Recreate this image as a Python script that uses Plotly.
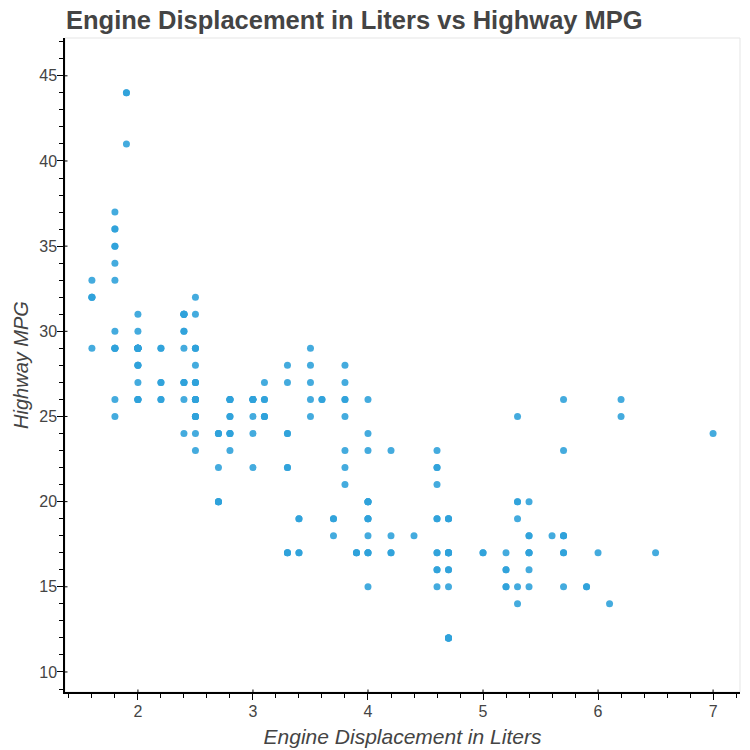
import plotly.graph_objects as go

# mpg dataset: engine displacement (litres) and highway mpg
displ = [
    1.8, 1.8, 2.0, 2.0, 2.8, 2.8, 3.1, 1.8, 1.8, 2.0, 2.0, 2.8, 2.8, 3.1, 3.1, 2.8, 3.1, 4.2,
    5.3, 5.3, 5.3, 5.7, 6.0, 5.7, 5.7, 6.2, 6.2, 7.0, 5.3, 5.3, 5.7, 6.5, 2.4, 2.4, 3.1, 3.5, 3.6,
    2.4, 3.0, 3.3, 3.3, 3.3, 3.3, 3.3, 3.8, 3.8, 3.8, 4.0,
    3.7, 3.7, 3.9, 3.9, 4.7, 4.7, 4.7, 5.2, 5.2,
    3.9, 4.7, 4.7, 4.7, 5.2, 5.7, 5.9,
    4.7, 4.7, 4.7, 4.7, 4.7, 4.7, 5.2, 5.2, 5.7, 5.9,
    4.6, 5.4, 5.4,
    4.0, 4.0, 4.0, 4.0, 4.6, 5.0,
    4.2, 4.2, 4.6, 4.6, 4.6, 5.4, 5.4,
    3.8, 3.8, 4.0, 4.0, 4.6, 4.6, 4.6, 4.6, 5.4,
    1.6, 1.6, 1.6, 1.6, 1.6, 1.8, 1.8, 1.8, 2.0,
    2.4, 2.4, 2.4, 2.4, 2.5, 2.5, 3.3,
    2.0, 2.0, 2.0, 2.0, 2.7, 2.7, 2.7,
    3.0, 3.7, 4.0, 4.7, 4.7, 4.7, 5.7, 6.1,
    4.0, 4.2, 4.4, 4.6,
    5.4, 5.4, 5.4,
    4.0, 4.0, 4.6, 5.0,
    2.4, 2.4, 2.5, 2.5, 3.5, 3.5,
    3.0, 3.0, 3.5,
    3.3, 3.3, 4.0, 5.6,
    3.1, 3.8, 3.8, 3.8, 5.3,
    2.5, 2.5, 2.5, 2.5, 2.5, 2.5,
    2.2, 2.2, 2.5, 2.5, 2.5, 2.5, 2.5, 2.5,
    2.7, 2.7, 3.4, 3.4, 4.0, 4.7,
    2.2, 2.2, 2.4, 2.4, 3.0, 3.0, 3.5,
    2.2, 2.2, 2.4, 2.4, 3.0, 3.0, 3.3,
    1.8, 1.8, 1.8, 1.8, 1.8,
    4.7, 5.7,
    2.7, 2.7, 2.7, 3.4, 3.4, 4.0, 4.0,
    2.0, 2.0, 2.0, 2.0, 2.8,
    1.9, 2.0, 2.0, 2.0, 2.0, 2.5, 2.5, 2.8, 2.8,
    1.9, 1.9, 2.0, 2.0, 2.5, 2.5,
    1.8, 1.8, 2.0, 2.0, 2.8, 2.8, 3.6,
]
hwy = [
    29, 29, 31, 30, 26, 26, 27, 26, 25, 28, 27, 25, 25, 25, 25, 24, 25, 23,
    20, 15, 20, 17, 17, 26, 23, 26, 25, 24, 19, 14, 15, 17, 27, 30, 26, 29, 26,
    24, 24, 22, 22, 24, 24, 17, 22, 21, 23, 23,
    19, 18, 17, 17, 19, 19, 12, 17, 15,
    17, 17, 12, 17, 16, 18, 15,
    16, 12, 17, 17, 16, 12, 15, 16, 17, 15,
    17, 17, 18,
    17, 19, 17, 19, 19, 17,
    17, 17, 16, 16, 17, 15, 17,
    26, 25, 26, 24, 21, 22, 23, 22, 20,
    33, 32, 32, 29, 32, 34, 36, 36, 29,
    26, 27, 30, 31, 26, 26, 28,
    26, 29, 28, 29, 24, 24, 24,
    22, 19, 20, 17, 12, 19, 18, 14,
    15, 18, 18, 15,
    17, 16, 18,
    17, 19, 19, 17,
    29, 27, 31, 32, 27, 26,
    26, 25, 25,
    17, 17, 20, 18,
    26, 26, 27, 28, 25,
    25, 24, 27, 25, 26, 23,
    26, 26, 26, 26, 25, 27, 25, 27,
    20, 20, 19, 17, 20, 17,
    29, 27, 31, 31, 26, 26, 28,
    27, 29, 31, 31, 26, 26, 27,
    30, 33, 35, 37, 35,
    15, 18,
    20, 20, 22, 17, 19, 18, 20,
    29, 26, 29, 29, 24,
    44, 29, 26, 29, 29, 29, 29, 23, 24,
    44, 41, 29, 26, 28, 29,
    29, 29, 28, 29, 26, 26, 26,
]

x_ticks = [2, 3, 4, 5, 6, 7]
y_ticks = [10, 15, 20, 25, 30, 35, 40, 45]

FONT = "Liberation Sans"
TXT = "#444444"
W, H = 750, 750
# the page body adds an 8px offset, so margins are trimmed on the left/top
M = dict(l=57, r=18, t=30, b=66)
plot_w = W - M["l"] - M["r"]
plot_h = H - M["t"] - M["b"]

fig = go.Figure(go.Scatter(
    x=displ, y=hwy, mode="markers",
    marker=dict(color="#30a2da", size=7, opacity=0.9, line=dict(width=0)),
    hoverinfo="x+y",
))

# light outline round the plot frame
fig.add_shape(type="rect", xref="x domain", yref="y domain",
              x0=0, x1=1, y0=0, y1=1,
              line=dict(color="#e5e5e5", width=1), layer="below")

# bokeh-style major ticks poke a little inside the frame too
for t in x_ticks:
    fig.add_shape(type="line", xref="x", yref="y domain", x0=t, x1=t,
                  y0=0, y1=2.5 / plot_h, line=dict(color="black", width=1))
for t in y_ticks:
    fig.add_shape(type="line", xref="x domain", yref="y", y0=t, y1=t,
                  x0=0, x1=2.5 / plot_w, line=dict(color="black", width=1))

fig.update_layout(
    width=W, height=H,
    margin=M,
    paper_bgcolor="white", plot_bgcolor="white",
    showlegend=False,
    font=dict(family=FONT, color=TXT, size=16),
    title=dict(text="<b>Engine Displacement in Liters vs Highway MPG</b>",
               x=0.0773, xanchor="left", y=1, yanchor="top", pad=dict(t=3),
               font=dict(family=FONT, size=25.5, color=TXT)),
)
fig.update_xaxes(
    range=[1.366, 7.234], tickvals=x_ticks, showgrid=False, zeroline=False,
    showline=True, linecolor="black", linewidth=1.5, automargin=False,
    ticks="outside", ticklen=6, tickcolor="black", ticklabelstandoff=-2,
    minor=dict(dtick=0.2, tick0=0, ticks="outside", ticklen=4, tickcolor="black"),
    tickfont=dict(size=16, color=TXT),
    title=dict(text="<i>Engine Displacement in Liters</i>", font=dict(size=21, color=TXT), standoff=10),
)
fig.update_yaxes(
    range=[8.824, 47.22], tickvals=y_ticks, showgrid=False, zeroline=False,
    showline=True, linecolor="black", linewidth=1.5, automargin=False,
    ticks="outside", ticklen=6, tickcolor="black", ticklabelstandoff=-3,
    minor=dict(dtick=1, tick0=0, ticks="outside", ticklen=4, tickcolor="black"),
    tickfont=dict(size=16, color=TXT),
    title=dict(text="<i>Highway MPG</i>", font=dict(size=20, color=TXT), standoff=5),
)

fig.write_html("out.html")
